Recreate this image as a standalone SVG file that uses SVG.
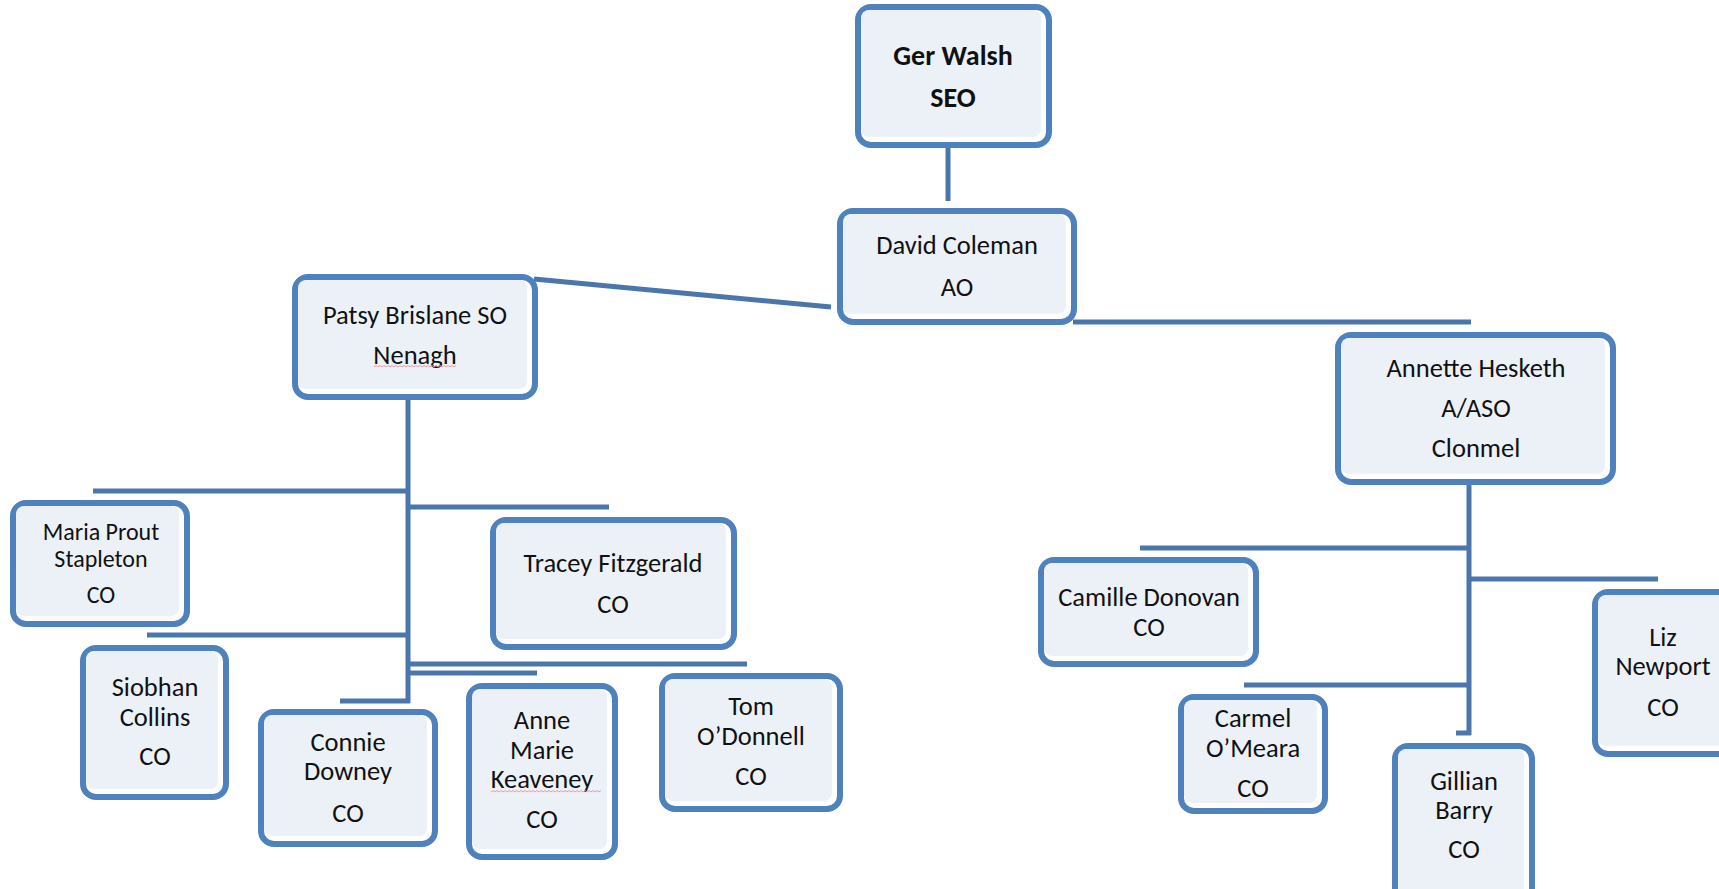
<svg xmlns="http://www.w3.org/2000/svg" width="1719" height="889" viewBox="0 0 1719 889">
  <style>
    .frame { fill: #ffffff; stroke: #4F81BD; stroke-width: 6; }
    .panel { fill: #ECF1F8; }
    .link { fill: none; stroke: #4A76AC; stroke-width: 5; stroke-linecap: butt; }
    .t { font-family: Carlito, Calibri, Lato, "Open Sans", sans-serif; font-size: 26.5px; fill: #111111; text-anchor: middle; }
    .sm { font-size: 24px; }
    .b { font-weight: bold; font-size: 28px; }
    .squiggle { fill: none; stroke: #EC9AA0; stroke-width: 1; }
  </style>

  <rect width="1719" height="889" fill="#ffffff"/>

  <!-- reporting lines -->
  <g id="connectors">
    <path class="link" d="M948 148 V201"/>
    <path class="link" d="M534 279 L831 307"/>
    <path class="link" d="M1073 322 H1471"/>
    <path class="link" d="M408 400 V703"/>
    <path class="link" d="M93 491 H410"/>
    <path class="link" d="M406 507 H609"/>
    <path class="link" d="M147 635 H410"/>
    <path class="link" d="M406 664 H747"/>
    <path class="link" d="M406 673 H537"/>
    <path class="link" d="M340 701 H410"/>
    <path class="link" d="M1469 485 V735"/>
    <path class="link" d="M1140 548 H1471"/>
    <path class="link" d="M1467 579 H1658"/>
    <path class="link" d="M1244 685 H1471"/>
    <path class="link" d="M1456 733 H1471"/>
  </g>

  <g id="ger-walsh">
    <rect class="frame" x="858" y="7" width="191" height="138" rx="13"/>
    <rect class="panel" x="861" y="10" width="180" height="127" rx="8"/>
    <text class="t b" x="953" y="65">Ger Walsh</text>
    <text class="t b" x="953" y="107">SEO</text>
  </g>

  <g id="david-coleman">
    <rect class="frame" x="840" y="211" width="234" height="111" rx="13"/>
    <rect class="panel" x="843" y="214" width="223" height="100" rx="8"/>
    <text class="t" x="957" y="254">David Coleman</text>
    <text class="t" x="957" y="296">AO</text>
  </g>

  <g id="patsy-brislane">
    <rect class="frame" x="295" y="277" width="240" height="120" rx="13"/>
    <rect class="panel" x="298" y="280" width="229" height="109" rx="8"/>
    <text class="t" x="415" y="324">Patsy Brislane SO</text>
    <text class="t" x="415" y="364">Nenagh</text>
    <path class="squiggle" d="M374 367 l2 -1.5 l2 1.5 l2 -1.5 l2 1.5 l2 -1.5 l2 1.5 l2 -1.5 l2 1.5 l2 -1.5 l2 1.5 l2 -1.5 l2 1.5 l2 -1.5 l2 1.5 l2 -1.5 l2 1.5 l2 -1.5 l2 1.5 l2 -1.5 l2 1.5 l2 -1.5 l2 1.5 l2 -1.5 l2 1.5 l2 -1.5 l2 1.5 l2 -1.5 l2 1.5 l2 -1.5 l2 1.5 l2 -1.5 l2 1.5 l2 -1.5 l2 1.5 l2 -1.5 l2 1.5 l2 -1.5 l2 1.5 l2 -1.5 l2 1.5 l2 -1.5"/>
  </g>

  <g id="annette-hesketh">
    <rect class="frame" x="1338" y="335" width="275" height="147" rx="13"/>
    <rect class="panel" x="1341" y="338" width="264" height="136" rx="8"/>
    <text class="t" x="1476" y="377">Annette Hesketh</text>
    <text class="t" x="1476" y="417">A/ASO</text>
    <text class="t" x="1476" y="457">Clonmel</text>
  </g>

  <g id="maria-prout-stapleton">
    <rect class="frame" x="13" y="503" width="174" height="121" rx="13"/>
    <rect class="panel" x="16" y="506" width="163" height="110" rx="8"/>
    <text class="t sm" x="101" y="540">Maria Prout</text>
    <text class="t sm" x="101" y="567">Stapleton</text>
    <text class="t sm" x="101" y="603">CO</text>
  </g>

  <g id="tracey-fitzgerald">
    <rect class="frame" x="493" y="520" width="241" height="127" rx="13"/>
    <rect class="panel" x="496" y="523" width="230" height="116" rx="8"/>
    <text class="t" x="613" y="572">Tracey Fitzgerald</text>
    <text class="t" x="613" y="613">CO</text>
  </g>

  <g id="siobhan-collins">
    <rect class="frame" x="83" y="648" width="143" height="149" rx="13"/>
    <rect class="panel" x="86" y="651" width="132" height="138" rx="8"/>
    <text class="t" x="155" y="696">Siobhan</text>
    <text class="t" x="155" y="726">Collins</text>
    <text class="t" x="155" y="765">CO</text>
  </g>

  <g id="connie-downey">
    <rect class="frame" x="261" y="712" width="174" height="132" rx="13"/>
    <rect class="panel" x="264" y="715" width="163" height="121" rx="8"/>
    <text class="t" x="348" y="751">Connie</text>
    <text class="t" x="348" y="780">Downey</text>
    <text class="t" x="348" y="822">CO</text>
  </g>

  <g id="anne-marie-keaveney">
    <rect class="frame" x="469" y="686" width="146" height="171" rx="13"/>
    <rect class="panel" x="472" y="689" width="135" height="160" rx="8"/>
    <text class="t" x="542" y="729">Anne</text>
    <text class="t" x="542" y="758.5">Marie</text>
    <text class="t" x="542" y="788">Keaveney</text>
    <path class="squiggle" d="M491 792 l2 -1.5 l2 1.5 l2 -1.5 l2 1.5 l2 -1.5 l2 1.5 l2 -1.5 l2 1.5 l2 -1.5 l2 1.5 l2 -1.5 l2 1.5 l2 -1.5 l2 1.5 l2 -1.5 l2 1.5 l2 -1.5 l2 1.5 l2 -1.5 l2 1.5 l2 -1.5 l2 1.5 l2 -1.5 l2 1.5 l2 -1.5 l2 1.5 l2 -1.5 l2 1.5 l2 -1.5 l2 1.5 l2 -1.5 l2 1.5 l2 -1.5 l2 1.5 l2 -1.5 l2 1.5 l2 -1.5 l2 1.5 l2 -1.5 l2 1.5 l2 -1.5 l2 1.5 l2 -1.5 l2 1.5 l2 -1.5 l2 1.5 l2 -1.5 l2 1.5 l2 -1.5 l2 1.5 l2 -1.5 l2 1.5 l2 -1.5 l2 1.5 l2 -1.5"/>
    <text class="t" x="542" y="828">CO</text>
  </g>

  <g id="tom-odonnell">
    <rect class="frame" x="662" y="676" width="178" height="133" rx="13"/>
    <rect class="panel" x="665" y="679" width="167" height="122" rx="8"/>
    <text class="t" x="751" y="715">Tom</text>
    <text class="t" x="751" y="745">O’Donnell</text>
    <text class="t" x="751" y="785">CO</text>
  </g>

  <g id="camille-donovan">
    <rect class="frame" x="1041" y="560" width="215" height="104" rx="13"/>
    <rect class="panel" x="1044" y="563" width="204" height="93" rx="8"/>
    <text class="t" x="1149" y="606">Camille Donovan</text>
    <text class="t" x="1149" y="636">CO</text>
  </g>

  <g id="carmel-omeara">
    <rect class="frame" x="1181" y="697" width="144" height="114" rx="13"/>
    <rect class="panel" x="1184" y="700" width="133" height="103" rx="8"/>
    <text class="t" x="1253" y="727">Carmel</text>
    <text class="t" x="1253" y="757">O’Meara</text>
    <text class="t" x="1253" y="797">CO</text>
  </g>

  <g id="gillian-barry">
    <rect class="frame" x="1395" y="746" width="137" height="160" rx="13"/>
    <rect class="panel" x="1398" y="749" width="126" height="149" rx="8"/>
    <text class="t" x="1464" y="790">Gillian</text>
    <text class="t" x="1464" y="819">Barry</text>
    <text class="t" x="1464" y="858">CO</text>
  </g>

  <g id="liz-newport">
    <rect class="frame" x="1595" y="592" width="138" height="162" rx="13"/>
    <rect class="panel" x="1598" y="595" width="127" height="151" rx="8"/>
    <text class="t" x="1663" y="646">Liz</text>
    <text class="t" x="1663" y="675">Newport</text>
    <text class="t" x="1663" y="716">CO</text>
  </g>
</svg>
